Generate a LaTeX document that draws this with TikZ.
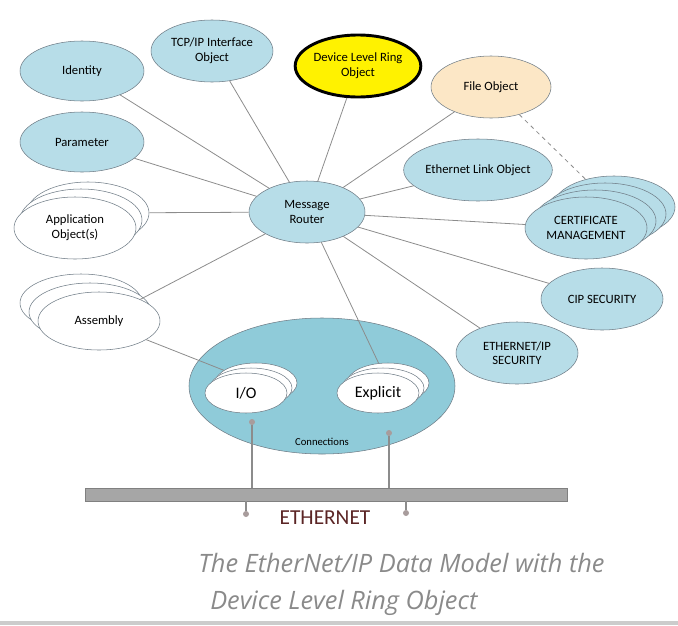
\documentclass[tikz,border=0pt]{standalone}
\usepackage{fontspec}
\setmainfont{Carlito}
\newfontfamily\captionfont{Open Sans}
\usetikzlibrary{shapes.geometric,calc,positioning}

\definecolor{objblue}{HTML}{B7DDE8}
\definecolor{objline}{HTML}{6F7C86}
\definecolor{connteal}{HTML}{8FCBD9}
\definecolor{filetan}{HTML}{FCE7C6}
\definecolor{linegray}{HTML}{8C8C8C}
\definecolor{bargray}{HTML}{A6A6A6}
\definecolor{dotgray}{HTML}{A89C9C}
\definecolor{ethred}{HTML}{5B2525}
\definecolor{captiongray}{HTML}{8A8A8A}

\begin{document}
\begin{tikzpicture}[
    x=0.75pt, y=-0.75pt,
    obj_block/.style={ellipse, draw=objline, fill=objblue, minimum width=91.5pt, minimum height=46.5pt, inner sep=0pt, align=center, font=\fontsize{9.5}{11}\selectfont},
    white_block/.style={obj_block, fill=white},
    port_block/.style={ellipse, draw=objline, fill=white, minimum width=61.5pt, minimum height=30pt, inner sep=0pt, font=\fontsize{12}{14}\selectfont},
    link/.style={draw=linegray, line width=0.6pt},
    dot/.style={circle, fill=dotgray, inner sep=0pt, minimum size=4.5pt},
    drop/.style={draw=linegray, line width=0.8pt},
    caption_line/.style={anchor=west, inner sep=0pt, text=captiongray, font=\captionfont\itshape\fontsize{19}{22}\selectfont}
]
\useasboundingbox (0,0) rectangle (678,625);

% Objects round the router
\node[obj_block, minimum width=93pt, minimum height=45pt] (identity) at (82,71) {Identity};
\node[obj_block] (tcpip) at (212,51) {TCP/IP Interface\\Object};
\node[obj_block, fill=yellow, draw=black, line width=2.2pt] (dlr) at (358,66) {Device Level Ring\\Object};
\node[obj_block, fill=filetan, minimum width=90pt] (file_obj) at (491,87) {File Object};
\node[obj_block, minimum width=93pt, minimum height=45pt] (parameter) at (82,142) {Parameter};
\node[obj_block, minimum width=87pt] (router) at (307,212) {Message\\Router};
\node[obj_block] (eth_link) at (478,170) {Ethernet Link Object};
\node[obj_block] (cip_sec) at (602,299) {CIP SECURITY};
\node[obj_block] (eip_sec) at (517,353) {ETHERNET/IP\\SECURITY};

% Application objects (stacked)
\node[white_block] (app_back2) at (88,213) {};
\node[white_block] (app_back1) at (81,220) {};
\node[white_block] (app) at (75,228) {Application\\Object(s)};

% Certificate management (stacked)
\node[obj_block] (cert_back3) at (614,207) {};
\node[obj_block] (cert_back2) at (605,214) {};
\node[obj_block] (cert_back1) at (595,221) {};
\node[obj_block] (cert) at (586,228) {CERTIFICATE\\MANAGEMENT};

% Assembly (stacked)
\node[white_block, minimum height=43.5pt] (asm_back2) at (81,303) {};
\node[white_block, minimum height=43.5pt] (asm_back1) at (90,312) {};
\node[white_block, minimum height=43.5pt] (asm) at (99,321) {Assembly};

% Connections with I/O and Explicit
\node[ellipse, draw=objline, fill=connteal, minimum width=199.5pt, minimum height=102pt] (conn) at (322,386) {};
\node[font=\fontsize{8}{9}\selectfont] (conn_label) at (322,442) {Connections};
\node[port_block] (io_back2) at (256,383) {};
\node[port_block] (io_back1) at (251,388) {};
\node[port_block] (io) at (246,393) {I/O};
\node[port_block] (expl_back2) at (388,383) {};
\node[port_block] (expl_back1) at (383,388) {};
\node[port_block] (expl) at (378,393) {Explicit};

% Router links
\foreach \target in {identity, tcpip, dlr, file_obj, parameter, app_back2, eth_link, cert, cip_sec, eip_sec, asm, expl_back2}
    \draw[link] (router) -- (\target);
\draw[link] (asm) -- (io_back2);
\draw[link, dashed] (file_obj) -- (cert_back3);

% Ethernet bus
\node[rectangle, draw=gray, fill=bargray, minimum width=361.5pt, minimum height=9.75pt, inner sep=0pt] (bus) at (326,494.5) {};
\node[dot] (io_up) at (252,422) {};
\node[dot] (expl_up) at (389,433) {};
\node[dot] (io_down) at (246,514) {};
\node[dot] (expl_down) at (406,513) {};
\draw[drop] (io_up) -- (io_up |- bus.north);
\draw[drop] (expl_up) -- (expl_up |- bus.north);
\draw[drop] (io_down) -- (io_down |- bus.south);
\draw[drop] (expl_down) -- (expl_down |- bus.south);
\node[text=ethred, font=\fontsize{16}{18}\selectfont] (eth_label) at (325,518) {ETHERNET};

% Caption
\node[caption_line] (caption1) at (198,563) {The EtherNet/IP Data Model with the};
\node[caption_line] (caption2) at (210,603) {Device Level Ring Object};
\draw[draw=black!20, line width=3pt] (0,623) -- (678,623);

\end{tikzpicture}
\end{document}
